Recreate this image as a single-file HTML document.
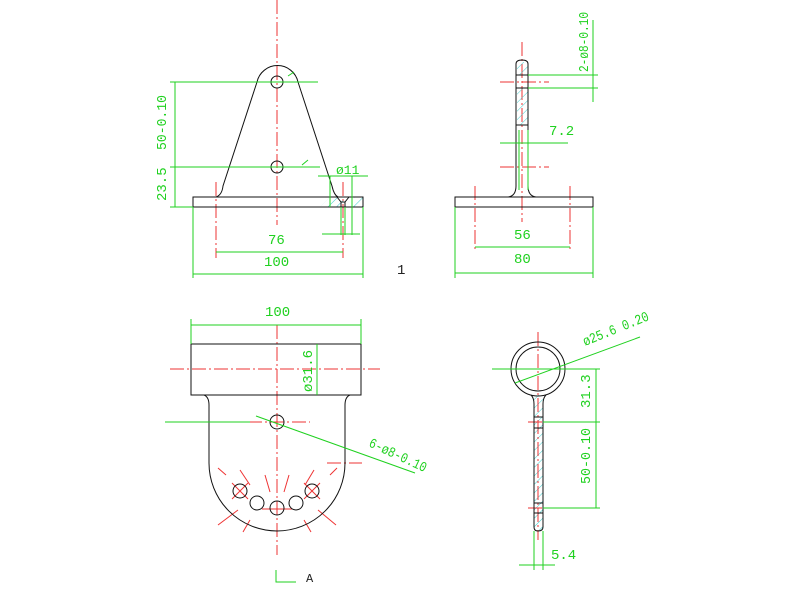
<!DOCTYPE html>
<html><head><meta charset="utf-8"><style>
html,body{margin:0;padding:0;background:#fff;width:800px;height:600px;overflow:hidden}
svg text{font-family:"Liberation Mono","DejaVu Sans Mono",monospace;fill:#1fd11f}
</style></head><body>
<svg width="800" height="600" viewBox="0 0 800 600" xmlns="http://www.w3.org/2000/svg">
<defs>
<pattern id="h" width="6" height="6" patternUnits="userSpaceOnUse" patternTransform="rotate(45)">
<line x1="0" y1="0" x2="0" y2="6" stroke="#4cc" stroke-width="1"/></pattern>
</defs>
<g fill="none" stroke-width="1">
<!-- ===== Top-left view ===== -->
<g stroke="#e33" stroke-dasharray="14,3,2,3">
<line x1="277" y1="0" x2="277" y2="225"/>
<line x1="216" y1="182" x2="216" y2="258"/>
<line x1="343" y1="182" x2="343" y2="258"/>
</g>
<path d="M320 207 L330 197 L340 197 L343 201 L343 207 Z" fill="url(#h)" stroke="none"/>
<path d="M349 207 L352 201 L355 197 L363 197 L363 207 Z" fill="url(#h)" stroke="none"/>
<g stroke="#111">
<rect x="193" y="197" width="170" height="10"/>
<path d="M216 197 Q222 195 223 186 L257 82 A21 21 0 0 1 298 82 L332 186 Q334 195 338 197"/>
<circle cx="277" cy="82" r="6"/>
<circle cx="277" cy="167" r="6"/>
<path d="M337 197 L341 202 L345 202 L349 197 M341 202 L341 207 M345 202 L345 207"/>
</g>
<g stroke="#1fd11f">
<line x1="170" y1="82" x2="318" y2="82"/>
<line x1="170" y1="167" x2="320" y2="167"/>
<line x1="175" y1="82" x2="175" y2="207"/>
<line x1="170" y1="207" x2="193" y2="207"/>
<line x1="288" y1="76" x2="294" y2="72"/>
<line x1="302" y1="165" x2="308" y2="160"/>
<line x1="318" y1="176" x2="368" y2="176"/>
<line x1="330" y1="176" x2="330" y2="207"/>
<line x1="352" y1="176" x2="352" y2="235"/>
<line x1="341" y1="207" x2="341" y2="235"/>
<line x1="345" y1="207" x2="345" y2="235"/>
<line x1="322" y1="234" x2="360" y2="234"/>
<line x1="216" y1="252" x2="343" y2="252"/>
<line x1="193" y1="207" x2="193" y2="278"/>
<line x1="363" y1="207" x2="363" y2="278"/>
<line x1="193" y1="274" x2="363" y2="274"/>
</g>
<!-- ===== Top-right view ===== -->
<g stroke="#e33" stroke-dasharray="14,3,2,3">
<line x1="522" y1="42" x2="522" y2="222"/>
<line x1="500" y1="82" x2="549" y2="82"/>
<line x1="500" y1="167" x2="549" y2="167"/>
<line x1="475" y1="186" x2="475" y2="252"/>
<line x1="570" y1="186" x2="570" y2="252"/>
</g>
<rect x="517" y="62" width="11" height="13" fill="url(#h)" stroke="none"/>
<rect x="517" y="88" width="11" height="37" fill="url(#h)" stroke="none"/>
<g stroke="#111">
<rect x="455" y="197" width="138" height="10"/>
<path d="M508 197 Q516 196 516 186 L516 64 Q516 60 522 60 Q528 60 528 64 L528 186 Q528 196 536 197"/>
<line x1="516" y1="75" x2="528" y2="75"/>
<line x1="516" y1="88" x2="528" y2="88"/>
<line x1="516" y1="125" x2="528" y2="125"/>
</g>
<g stroke="#1fd11f">
<line x1="528" y1="75" x2="598" y2="75"/>
<line x1="528" y1="88" x2="598" y2="88"/>
<line x1="593" y1="20" x2="593" y2="102"/>
<line x1="500" y1="143" x2="568" y2="143"/>
<line x1="519" y1="130" x2="519" y2="190"/>
<line x1="528" y1="130" x2="528" y2="190"/>
<line x1="475" y1="247" x2="570" y2="247"/>
<line x1="455" y1="207" x2="455" y2="278"/>
<line x1="593" y1="207" x2="593" y2="278"/>
<line x1="455" y1="273" x2="593" y2="273"/>
</g>
<!-- ===== Bottom-left view ===== -->
<g stroke="#e33" stroke-dasharray="14,3,2,3">
<line x1="277" y1="325" x2="277" y2="555"/>
<line x1="170" y1="369" x2="380" y2="369"/>
<line x1="248" y1="422" x2="310" y2="422"/>
<line x1="327" y1="463" x2="362" y2="463"/>
</g>
<g stroke="#e33">
<line x1="232" y1="483" x2="248" y2="499"/><line x1="232" y1="499" x2="248" y2="483"/>
<line x1="304" y1="483" x2="320" y2="499"/><line x1="304" y1="499" x2="320" y2="483"/>
<line x1="226" y1="475" x2="218" y2="468"/><line x1="238" y1="510" x2="218" y2="525"/>
<line x1="330" y1="475" x2="337" y2="468"/><line x1="318" y1="510" x2="336" y2="525"/>
<line x1="250" y1="485" x2="240" y2="470"/><line x1="305" y1="485" x2="314" y2="470"/>
<line x1="265" y1="475" x2="270" y2="492"/><line x1="289" y1="475" x2="284" y2="492"/>
<line x1="250" y1="520" x2="243" y2="532"/><line x1="304" y1="520" x2="311" y2="532"/>
<line x1="262" y1="509" x2="292" y2="509"/>
</g>
<g stroke="#111">
<rect x="191" y="344" width="170" height="51"/>
<path d="M204 395 Q209 397 209 405 L209 463 A68 68 0 0 0 345 463 L345 405 Q345 397 350 395"/>
<circle cx="277" cy="422" r="7"/>
<circle cx="240" cy="491" r="7"/>
<circle cx="257" cy="503" r="7"/>
<circle cx="277" cy="508" r="7"/>
<circle cx="296" cy="503" r="7"/>
<circle cx="312" cy="491" r="7"/>
</g>
<g stroke="#1fd11f">
<line x1="191" y1="319" x2="191" y2="344"/>
<line x1="361" y1="319" x2="361" y2="344"/>
<line x1="191" y1="325" x2="361" y2="325"/>
<line x1="317" y1="344" x2="317" y2="395"/>
<line x1="165" y1="422" x2="250" y2="422"/>
<line x1="256" y1="416" x2="415" y2="473"/>
<polyline points="276,570 276,582 296,582"/>
</g>
<!-- ===== Bottom-right view ===== -->
<path d="M534 395 L534 528 Q534 531 538 531 Q543 531 543 528 L543 395 Z" fill="url(#h)" stroke="none"/>
<g stroke="#e33" stroke-dasharray="14,3,2,3">
<line x1="538" y1="332" x2="538" y2="540"/>
<line x1="528" y1="422" x2="560" y2="422"/>
<line x1="528" y1="508" x2="560" y2="508"/>
</g>
<g stroke="#111">
<circle cx="538" cy="369" r="27"/>
<circle cx="538" cy="369" r="22"/>
<path d="M531 395 Q534 398 534 404 L534 527 Q534 531 538 531 Q543 531 543 527 L543 404 Q543 398 546 395"/>
<line x1="534" y1="417" x2="543" y2="417"/><line x1="534" y1="428" x2="543" y2="428"/>
<line x1="534" y1="503" x2="543" y2="503"/><line x1="534" y1="513" x2="543" y2="513"/>
</g>
<g stroke="#1fd11f">
<line x1="492" y1="369" x2="600" y2="369"/>
<line x1="543" y1="422" x2="600" y2="422"/>
<line x1="543" y1="508" x2="600" y2="508"/>
<line x1="596" y1="369" x2="596" y2="508"/>
<line x1="515" y1="383" x2="640" y2="337"/>
<line x1="534" y1="531" x2="534" y2="570"/>
<line x1="543" y1="531" x2="543" y2="570"/>
<line x1="519" y1="565" x2="555" y2="565"/>
</g>
</g>
<!-- Text -->
<g font-size="14">
<text x="166" y="150" transform="rotate(-90 166 150)" textLength="55" lengthAdjust="spacingAndGlyphs">50-0.10</text>
<text x="166" y="201" transform="rotate(-90 166 201)">23.5</text>
<text x="336" y="174" font-size="13">ø11</text>
<text x="268" y="244">76</text>
<text x="264" y="266">100</text>
<text x="397" y="274" style="fill:#222">1</text>
<text x="588" y="72" transform="rotate(-90 588 72)" textLength="60" lengthAdjust="spacingAndGlyphs">2-ø8-0.10</text>
<text x="549" y="135">7.2</text>
<text x="514" y="239">56</text>
<text x="514" y="263">80</text>
<text x="265" y="316">100</text>
<text x="312" y="392" transform="rotate(-90 312 392)">ø31.6</text>
<text x="368" y="446" transform="rotate(25 368 446)" textLength="62" lengthAdjust="spacingAndGlyphs">6-ø8-0.10</text>
<text x="306" y="582" style="fill:#222" font-size="12">A</text>
<text x="585" y="346" transform="rotate(-22 585 346)" textLength="70" lengthAdjust="spacingAndGlyphs">ø25.6 0.20</text>
<text x="590" y="408" transform="rotate(-90 590 408)">31.3</text>
<text x="590" y="484" transform="rotate(-90 590 484)" textLength="56" lengthAdjust="spacingAndGlyphs">50-0.10</text>
<text x="551" y="559">5.4</text>
</g>
</svg>
</body></html>
